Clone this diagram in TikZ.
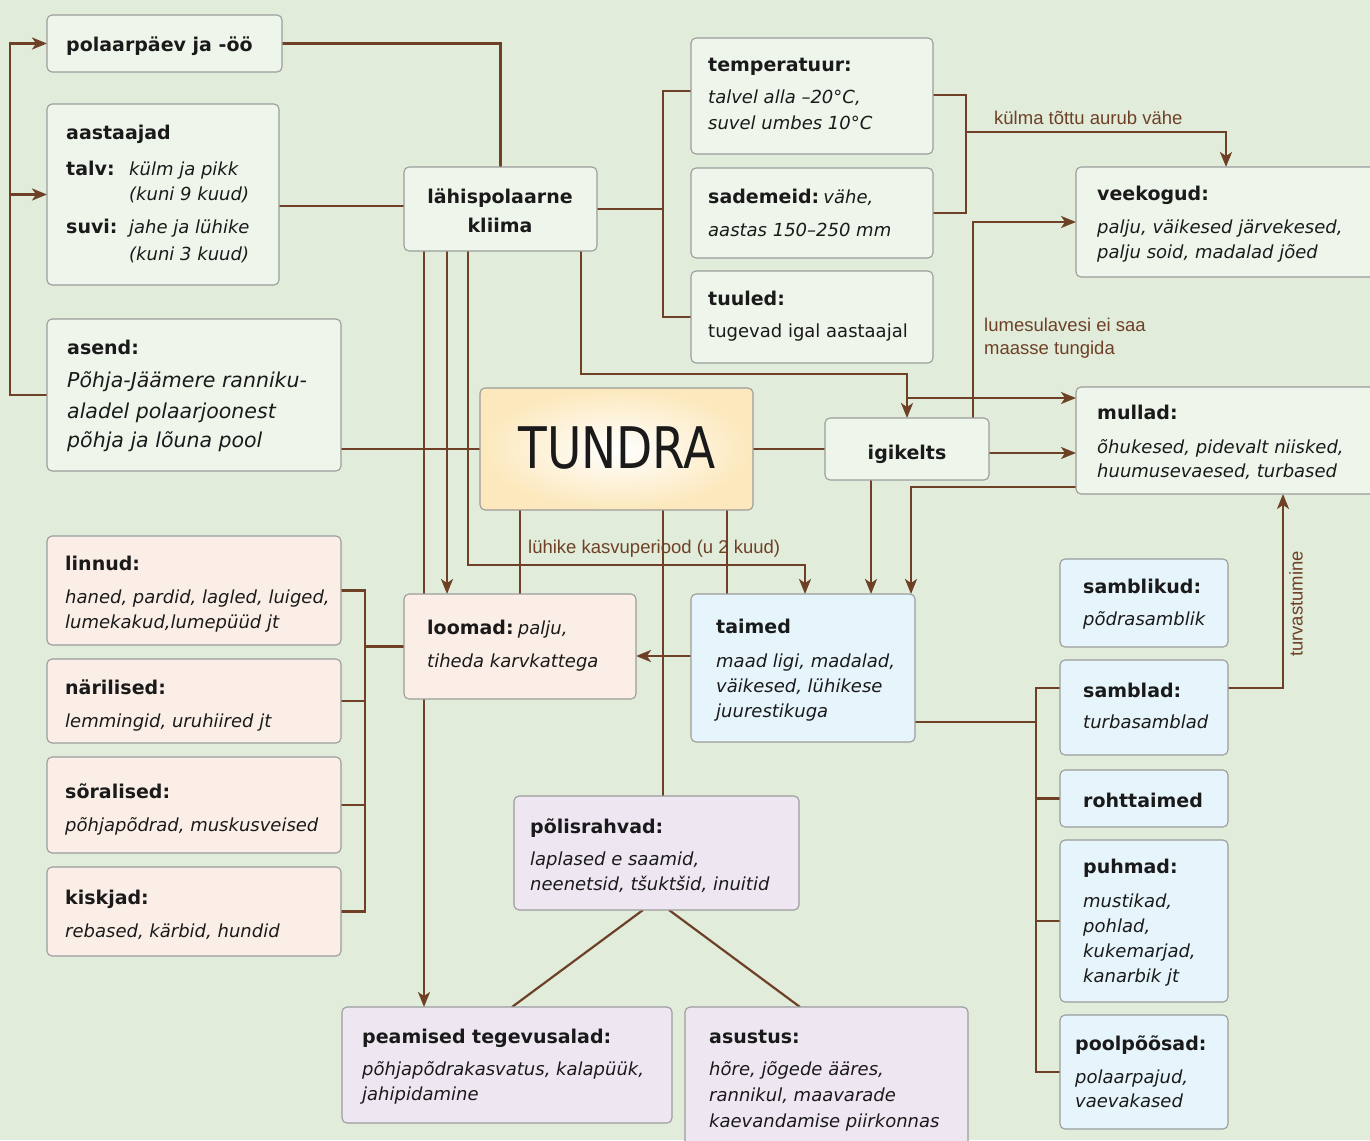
\documentclass[tikz,border=0pt]{standalone}
\usepackage{fontspec}
\usepackage{graphicx}
\setmainfont{DejaVu Sans}
\newfontfamily\lblfont{Liberation Sans}
\usetikzlibrary{arrows.meta,calc}
\definecolor{bgc}{HTML}{E1ECDA}
\definecolor{gfill}{HTML}{EEF6EC}
\definecolor{pfill}{HTML}{FAEEE6}
\definecolor{bfill}{HTML}{E6F4FB}
\definecolor{lfill}{HTML}{EEE7F2}
\definecolor{tundc}{HTML}{FCE8BC}
\definecolor{bordc}{HTML}{9C9C9C}
\definecolor{linec}{HTML}{6E4127}
\definecolor{txtc}{HTML}{1A1A1A}
\pgfdeclarelayer{bg}\pgfdeclarelayer{edges}\pgfsetlayers{bg,edges,main}
\newcommand\mkbox[6]{\node[#2,anchor=north west,minimum width={#5-#3},minimum height={#6-#4}] (#1) at (#3,#4) {};}
\newcommand\tx[4]{\node[txt,anchor=base west] (#1) at (#2,#3) {#4};}
\newcommand\bdf{\fontsize{19}{23}\selectfont\bfseries}
\newcommand\itf{\fontsize{18}{22}\selectfont\itshape}
\newcommand\upf{\fontsize{18}{22}\selectfont}
\newcommand\lbf{\lblfont\fontsize{18.5}{22}\selectfont}
\tikzset{
  box/.style={draw=bordc, line width=1.1pt, rounded corners=5pt, inner sep=0pt, outer sep=0pt},
  gbox/.style={box, fill=gfill},
  pbox/.style={box, fill=pfill},
  bbox/.style={box, fill=bfill},
  lbox/.style={box, fill=lfill},
  tbox/.style={box, shading=radial, inner color=white, outer color=tundc},
  txt/.style={inner sep=0pt, text=txtc},
  lbl/.style={inner sep=0pt, text=linec, font=\lbf},
  ln/.style={draw=linec, line width=2.2pt},
  arr/.style={ln, -{Stealth[length=15pt,width=12pt,inset=4pt]}}
}
\begin{document}
\begin{tikzpicture}[x=1pt,y=-1pt]
\useasboundingbox (0,0) rectangle (1370,1140);
\begin{pgfonlayer}{bg}
\fill[bgc] (0,0) rectangle (1370,1140);
\end{pgfonlayer}
% boxes
\mkbox{polar}{gbox}{47}{15}{282}{72}
\mkbox{aast}{gbox}{47}{104}{279}{285}
\mkbox{asend}{gbox}{47}{319}{341}{471}
\mkbox{kliima}{gbox}{404}{167}{597}{251}
\mkbox{temp}{gbox}{691}{38}{933}{154}
\mkbox{sadem}{gbox}{691}{168}{933}{258}
\mkbox{tuul}{gbox}{691}{271}{933}{363}
\mkbox{veek}{gbox}{1076}{167}{1376}{277}
\mkbox{mull}{gbox}{1076}{387}{1376}{494}
\mkbox{tundra}{tbox}{480}{388}{753}{510}
\mkbox{igi}{gbox}{825}{418}{989}{480}
\mkbox{linn}{pbox}{47}{536}{341}{645}
\mkbox{nar}{pbox}{47}{659}{341}{743}
\mkbox{sor}{pbox}{47}{757}{341}{853}
\mkbox{kisk}{pbox}{47}{867}{341}{956}
\mkbox{loom}{pbox}{404}{594}{636}{699}
\mkbox{taim}{bbox}{691}{594}{915}{742}
\mkbox{pol}{lbox}{514}{796}{799}{910}
\mkbox{peam}{lbox}{342}{1007}{672}{1123}
\mkbox{asus}{lbox}{685}{1007}{968}{1150}
\mkbox{sblk}{bbox}{1060}{559}{1228}{647}
\mkbox{sbl}{bbox}{1060}{660}{1228}{755}
\mkbox{roht}{bbox}{1060}{770}{1228}{827}
\mkbox{puh}{bbox}{1060}{840}{1228}{1002}
\mkbox{pool}{bbox}{1060}{1015}{1228}{1129}
% texts
\tx{polarT}{66}{52}{\bdf polaarpäev ja -öö}
\tx{aastT}{66}{139}{\bdf aastaajad}
\tx{aastA}{66}{175}{\bdf talv:}
\tx{aastB}{129}{175}{\itf külm ja pikk}
\tx{aastC}{129}{200}{\itf (kuni 9 kuud)}
\tx{aastD}{66}{233}{\bdf suvi:}
\tx{aastE}{129}{233}{\itf jahe ja lühike}
\tx{aastF}{129}{260}{\itf (kuni 3 kuud)}
\tx{asendT}{67}{354}{\bdf asend:}
\tx{asendA}{67}{387}{\fontsize{20.5}{24}\selectfont\itshape Põhja-Jäämere ranniku-}
\tx{asendB}{67}{418}{\fontsize{20.5}{24}\selectfont\itshape aladel polaarjoonest}
\tx{asendC}{67}{447}{\fontsize{20.5}{24}\selectfont\itshape põhja ja lõuna pool}
\node[txt,anchor=base] (kliimaA) at (500,203) {\bdf lähispolaarne};
\node[txt,anchor=base] (kliimaB) at (500,232) {\bdf kliima};
\tx{tempT}{708}{71}{\bdf temperatuur:}
\tx{tempA}{708}{103}{\itf talvel alla –20°C,}
\tx{tempB}{708}{129}{\itf suvel umbes 10°C}
\tx{sademT}{708}{203}{{\bdf sademeid:} {\itf vähe,}}
\tx{sademA}{708}{236}{\itf aastas 150–250 mm}
\tx{tuulT}{708}{305}{\bdf tuuled:}
\tx{tuulA}{708}{337}{\upf tugevad igal aastaajal}
\tx{veekT}{1097}{200}{\bdf veekogud:}
\tx{veekA}{1097}{233}{\itf palju, väikesed järvekesed,}
\tx{veekB}{1097}{258}{\itf palju soid, madalad jõed}
\tx{mullT}{1097}{419}{\bdf mullad:}
\tx{mullA}{1097}{453}{\itf õhukesed, pidevalt niisked,}
\tx{mullB}{1097}{477}{\itf huumusevaesed, turbased}
\node[txt,anchor=base] (igiT) at (907,459) {\bdf igikelts};
\node[txt,anchor=base] (tundraT) at (617,468) {\scalebox{1}[1.22]{\fontsize{47}{50}\selectfont TUNDRA}};
\tx{linnT}{65}{570}{\bdf linnud:}
\tx{linnA}{65}{603}{\itf haned, pardid, lagled, luiged,}
\tx{linnB}{65}{628}{\itf lumekakud,lumepüüd jt}
\tx{narT}{65}{694}{\bdf närilised:}
\tx{narA}{65}{727}{\itf lemmingid, uruhiired jt}
\tx{sorT}{65}{798}{\bdf sõralised:}
\tx{sorA}{65}{831}{\itf põhjapõdrad, muskusveised}
\tx{kiskT}{65}{904}{\bdf kiskjad:}
\tx{kiskA}{65}{937}{\itf rebased, kärbid, hundid}
\tx{loomT}{427}{634}{{\bdf loomad:} {\itf palju,}}
\tx{loomA}{427}{667}{\itf tiheda karvkattega}
\tx{taimT}{716}{633}{\bdf taimed}
\tx{taimA}{716}{667}{\itf maad ligi, madalad,}
\tx{taimB}{716}{692}{\itf väikesed, lühikese}
\tx{taimC}{716}{717}{\itf juurestikuga}
\tx{polT}{530}{833}{\bdf põlisrahvad:}
\tx{polA}{530}{865}{\itf laplased e saamid,}
\tx{polB}{530}{890}{\itf neenetsid, tšuktšid, inuitid}
\tx{peamT}{362}{1043}{\bdf peamised tegevusalad:}
\tx{peamA}{362}{1075}{\itf põhjapõdrakasvatus, kalapüük,}
\tx{peamB}{362}{1100}{\itf jahipidamine}
\tx{asusT}{709}{1043}{\bdf asustus:}
\tx{asusA}{709}{1075}{\itf hõre, jõgede ääres,}
\tx{asusB}{709}{1101}{\itf rannikul, maavarade}
\tx{asusC}{709}{1127}{\itf kaevandamise piirkonnas}
\tx{sblkT}{1083}{593}{\bdf samblikud:}
\tx{sblkA}{1083}{625}{\itf põdrasamblik}
\tx{sblT}{1083}{697}{\bdf samblad:}
\tx{sblA}{1083}{728}{\itf turbasamblad}
\tx{rohtT}{1083}{807}{\bdf rohttaimed}
\tx{puhT}{1083}{873}{\bdf puhmad:}
\tx{puhA}{1083}{907}{\itf mustikad,}
\tx{puhB}{1083}{932}{\itf pohlad,}
\tx{puhC}{1083}{957}{\itf kukemarjad,}
\tx{puhD}{1083}{982}{\itf kanarbik jt}
\tx{poolT}{1075}{1050}{\bdf poolpõõsad:}
\tx{poolA}{1075}{1083}{\itf polaarpajud,}
\tx{poolB}{1075}{1107}{\itf vaevakased}
% connector labels
\node[lbl,anchor=base west] (lab1) at (994,124) {külma tõttu aurub vähe};
\node[lbl,anchor=base west] (lab2) at (984,331) {lumesulavesi ei saa};
\node[lbl,anchor=base west] (lab3) at (984,354) {maasse tungida};
\node[lbl,anchor=base west] (lab4) at (528,553) {lühike kasvuperiood (u 2 kuud)};
\node[lbl,rotate=90] (lab5) at (1296,604) {turvastumine};
% connectors
\begin{pgfonlayer}{edges}
\coordinate (lx) at (10,0);
\coordinate (bx) at (663,0);
\coordinate (cx) at (966,0);
\coordinate (dx) at (973,0);
\coordinate (ex) at (581,0);
\coordinate (ax) at (365,0);
\coordinate (px) at (1036,0);
\draw[ln] (polar.east) -| (kliima.north);
\draw[arr] (asend.west) -| (lx |- polar.west) -- (polar.west);
\draw[arr] (lx |- aast.west) -- (aast.west);
\draw[ln] (aast.east |- 0,206) -- (kliima.west |- 0,206);
\draw[ln] (kliima.east) -- (bx |- kliima.east);
\draw[ln] (temp.west |- 0,91) -| (bx |- tuul.west) -- (tuul.west);
\draw[ln] (temp.east |- 0,95) -| (cx |- sadem.east) -- (sadem.east);
\draw[arr] (cx |- 0,132) -| (veek.north);
\draw[arr] (dx |- igi.north) |- (veek.west);
\draw[arr] (ex |- kliima.south) |- (igi.north |- 0,374) -- (igi.north);
\draw[arr] (igi.north |- 0,398) -- (mull.west |- 0,398);
\draw[arr] (igi.east |- 0,453) -- (mull.west |- 0,453);
\draw[ln] (tundra.east) -- (igi.west |- tundra.east);
\draw[ln] (asend.east |- tundra.west) -- (tundra.west);
\draw[arr] (kliima.south -| 424,0) -- (peam.north -| 424,0);
\draw[arr] (kliima.south -| 447,0) -- (loom.north -| 447,0);
\draw[arr] (kliima.south -| 468,0) |- (805,565) -- (taim.north -| 805,0);
\draw[ln] (tundra.south -| 520,0) -- (loom.north -| 520,0);
\draw[ln] (tundra.south -| 663,0) -- (pol.north -| 663,0);
\draw[ln] (tundra.south -| 727,0) -- (taim.north -| 727,0);
\draw[arr] (igi.south -| 871,0) -- (taim.north -| 871,0);
\draw[arr] (mull.west |- 0,487) -| (taim.north -| 911,0);
\draw[arr] (taim.west |- 0,656) -- (loom.east |- 0,656);
\draw[ln] (linn.east) -| (ax |- kisk.east) -- (kisk.east);
\draw[ln] (nar.east) -- (ax |- nar.east);
\draw[ln] (sor.east) -- (ax |- sor.east);
\draw[ln] (ax |- loom.west) -- (loom.west);
\draw[ln] (pol.south -| 643,0) -- (peam.north -| 512,0);
\draw[ln] (pol.south -| 669,0) -- (asus.north -| 800,0);
\draw[ln] (taim.east |- 0,722) -- (px |- 0,722);
\draw[ln] (sbl.west |- 0,688) -| (px |- pool.west) -- (pool.west);
\draw[ln] (roht.west) -- (px |- roht.west);
\draw[ln] (puh.west) -- (px |- puh.west);
\draw[arr] (sbl.east |- 0,688) -| (mull.south -| 1283,0);
\end{pgfonlayer}
\end{tikzpicture}
\end{document}
